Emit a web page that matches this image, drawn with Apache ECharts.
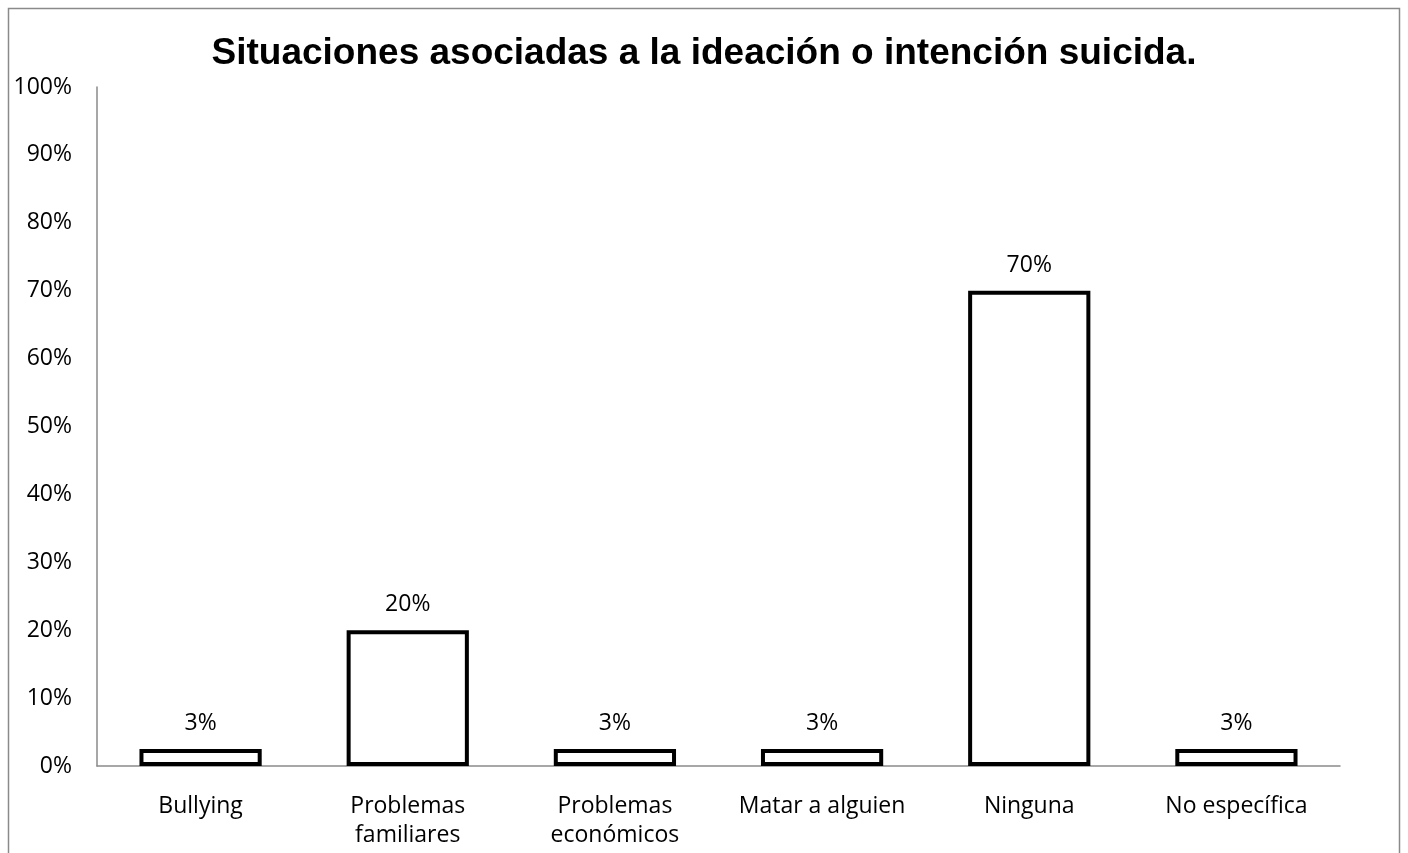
<!DOCTYPE html>
<html><head><meta charset="utf-8">
<script src="https://cdn.jsdelivr.net/npm/echarts@6/dist/echarts.min.js"></script>
<style>html,body{margin:0;padding:0;background:#fff}#c{width:1408px;height:853px}</style>
</head><body><div id="c"></div>
<script>
var titleText = 'Situaciones asociadas a la ideación o intención suicida.';
var categories = ['Bullying', 'Problemas\nfamiliares', 'Problemas\neconómicos', 'Matar a alguien', 'Ninguna', 'No específica'];
var values = [2.5, 20, 2.5, 2.5, 70, 2.5];
var yTicks = [0, 10, 20, 30, 40, 50, 60, 70, 80, 90, 100];

var chart = echarts.init(document.getElementById('c'), null, {renderer: 'canvas'});
var font = '"Open Sans", "Noto Sans", sans-serif';
chart.setOption({
  animation: false,
  backgroundColor: '#fff',
  title: {
    text: titleText, left: 'center', top: 30,
    textStyle: {fontFamily: '"Liberation Sans", Arial, sans-serif', fontWeight: 'bold', fontSize: 37, color: '#000'}
  },
  graphic: [{
    type: 'rect', shape: {x: 8.5, y: 8.5, width: 1391, height: 900},
    style: {fill: 'none', stroke: '#8a8a8a', lineWidth: 1.5}, silent: true
  }],
  grid: {left: 97, right: 68, top: 87, bottom: 87},
  xAxis: {
    type: 'category', data: categories,
    axisLine: {lineStyle: {color: '#8a8a8a', width: 1.5}},
    axisTick: {show: false},
    axisLabel: {fontFamily: font, fontSize: 23, color: '#000', margin: 26, lineHeight: 29, interval: 0}
  },
  yAxis: {
    type: 'value', min: 0, max: 100, interval: 10,
    axisLine: {show: true, lineStyle: {color: '#8a8a8a', width: 1.5}},
    axisTick: {show: false},
    splitLine: {show: false},
    axisLabel: {fontFamily: font, fontSize: 23, color: '#000', margin: 25,
      formatter: function (v) { return yTicks.indexOf(v) >= 0 ? v + '%' : ''; }}
  },
  series: [{
    type: 'bar', data: values, barWidth: '59%',
    itemStyle: {color: '#fff', borderColor: '#000', borderWidth: 4},
    label: {show: true, position: 'top', distance: 14, fontFamily: font, fontSize: 23, color: '#000',
      formatter: function (p) { return Math.round(p.value) + '%'; }}
  }]
});
</script></body></html>
